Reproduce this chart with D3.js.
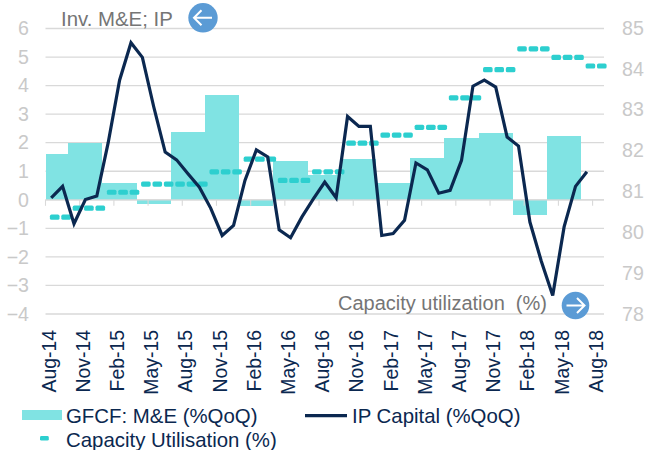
<!DOCTYPE html>
<html>
<head>
<meta charset="utf-8">
<script src="https://cdn.jsdelivr.net/npm/d3@7"></script>
<style>
html,body{margin:0;padding:0;background:#fff;}
svg{display:block;}
text{font-family:"Liberation Sans",Arial,sans-serif;}
</style>
</head>
<body>
<svg id="chart" width="654" height="450"></svg>
<script>
/*global d3*/
var monthNames=["Jan","Feb","Mar","Apr","May","Jun","Jul","Aug","Sep","Oct","Nov","Dec"];

//one entry per month, Aug-14 to Aug-18
var months=[];
for(var yr=14,mo=7;months.length<49;mo++){
  if(mo==12){mo=0;yr++;}
  months.push(monthNames[mo]+"-"+yr);
}

//bars are quarterly in the source so each value repeats over its months
var gfcf=[1.6,1.6,
  2,2,2, 0.6,0.6,0.6, -0.15,-0.15,-0.15, 2.38,2.38,2.38, 3.67,3.67,3.67,
  -0.2,-0.2,-0.2, 1.35,1.35,1.35, 0.87,0.87,0.87, 1.43,1.43,1.43,
  0.6,0.6,0.6, 1.46,1.46,1.46, 2.17,2.17,2.17, 2.33,2.33,2.33,
  -0.52,-0.52,-0.52, 2.25,2.25,2.25, null,null];

var ipCapital=[0.07,0.47,-0.84,0.01,0.13,2,4.19,5.5,4.99,3.25,1.67,1.4,
  0.91,0.44,-0.3,-1.25,-0.9,0.68,1.75,1.5,-1.05,-1.33,-0.6,0.03,
  0.62,0.07,2.92,2.57,2.57,-1.25,-1.18,-0.72,1.29,1.05,0.23,0.33,
  1.38,3.98,4.19,3.95,2.2,1.88,-0.78,-2.15,-3.35,-0.95,0.47,0.98,null];

var capacity=[80.37,80.37,
  80.59,80.59,80.59, 80.98,80.98,80.98, 81.18,81.18,81.18, 81.18,81.18,81.18, 81.48,81.48,81.48,
  81.79,81.79,81.79, 81.27,81.27,81.27, 81.48,81.48,81.48, 82.18,82.18,82.18,
  82.38,82.38,82.38, 82.57,82.57,82.57, 83.29,83.29,83.29, 83.98,83.98,83.98,
  84.49,84.49,84.49, 84.28,84.28,84.28, 84.07,84.07];

var leftTicks=[6,5,4,3,2,1,0,-1,-2,-3,-4];
var rightTicks=[85,84,83,82,81,80,79,78];
var tickMonths=months.filter(function(d,i){return i%3==0;});

var barColor="#80e3e3", lineColor="#0b2850", dashColor="#2dcfcf", blue="#5b9bd5";
var left=45.5, right=604, top_=28.5, bottom=314;

var svg=d3.select("#chart");

var x=d3.scaleBand().domain(months).range([left,right]);
var y=d3.scaleLinear().domain([-4,6]).range([bottom,top_]);
var y2=d3.scaleLinear().domain([78,85]).range([bottom,top_-0.5]);

//gridlines
svg.append("g").selectAll("line")
  .data(leftTicks)
  .enter().append("line")
  .attr("x1",left).attr("x2",right)
  .attr("y1",function(d){return y(d);})
  .attr("y2",function(d){return y(d);})
  .attr("stroke","#d9d9d9")
  .attr("stroke-width",1.3);

//bars
svg.append("g").selectAll("rect")
  .data(months.map(function(m,i){return {m:m,v:gfcf[i]};}).filter(function(d){return d.v!=null;}))
  .enter().append("rect")
  .attr("x",function(d){return x(d.m);})
  .attr("width",x.bandwidth())
  .attr("y",function(d){return y(Math.max(d.v,0));})
  .attr("height",function(d){return Math.abs(y(d.v)-y(0));})
  .attr("fill",barColor)
  .attr("shape-rendering","crispEdges");

//zero line and the tick marks, these sit on the left edge of the month
svg.append("line")
  .attr("x1",left).attr("x2",right)
  .attr("y1",y(0)).attr("y2",y(0))
  .attr("stroke","#d9d9d9").attr("stroke-width",1.3);
svg.append("g").selectAll("line")
  .data(tickMonths)
  .enter().append("line")
  .attr("x1",function(d){return x(d);})
  .attr("x2",function(d){return x(d);})
  .attr("y1",y(0)).attr("y2",y(0)+6)
  .attr("stroke","#d9d9d9").attr("stroke-width",1.1);

//capacity dashes, one per month
svg.append("g").selectAll("rect")
  .data(months.map(function(m,i){return {m:m,v:capacity[i]};}))
  .enter().append("rect")
  .attr("x",function(d){return x(d.m)+x.bandwidth()/2-1.3;})
  .attr("y",function(d){return y2(d.v)-2.6;})
  .attr("width",9.6)
  .attr("height",5.2)
  .attr("rx",1.6)
  .attr("fill",dashColor);

//IP line
var line=d3.line()
  .defined(function(d){return d.v!=null;})
  .x(function(d){return x(d.m)+x.bandwidth()/2;})
  .y(function(d){return y(d.v);});

svg.append("path")
  .datum(months.map(function(m,i){return {m:m,v:ipCapital[i]};}))
  .attr("d",line)
  .attr("fill","none")
  .attr("stroke",lineColor)
  .attr("stroke-width",3.2)
  .attr("stroke-linejoin","miter");

//axes
var axisL=svg.append("g")
  .attr("transform","translate(29,0)")
  .call(d3.axisLeft(y).tickValues(leftTicks).tickSize(0).tickPadding(0).tickFormat(d3.format("d")));
var axisR=svg.append("g")
  .attr("transform","translate(622,0)")
  .call(d3.axisRight(y2).tickValues(rightTicks).tickSize(0).tickPadding(0).tickFormat(d3.format("d")));
[axisL,axisR].forEach(function(a){
  a.select(".domain").remove();
  a.selectAll("text")
    .style("font-family",'"Liberation Sans",Arial,sans-serif')
    .style("font-size","19.6px")
    .attr("fill","#c9c9c9");
});

var axisB=svg.append("g")
  .attr("transform","translate(0,330)")
  .call(d3.axisBottom(x).tickValues(tickMonths).tickSize(0).tickPadding(0));
axisB.select(".domain").remove();
axisB.selectAll("text")
  .style("font-family",'"Liberation Sans",Arial,sans-serif')
  .style("font-size","19.4px")
  .attr("fill",lineColor)
  .attr("text-anchor","end")
  .attr("dy",null)
  .attr("y",0)
  .attr("transform","rotate(-90) translate(0,4.5)");

//the two annotations with arrows
function note(label,size,tx,ty,cx,cy,r,dir){
  svg.append("text").attr("x",tx).attr("y",ty)
    .attr("font-size",size).attr("fill","#757575")
    .attr("xml:space","preserve")
    .style("white-space","pre")
    .text(label);
  svg.append("circle").attr("cx",cx).attr("cy",cy).attr("r",r).attr("fill",blue);
  var a=svg.append("g").attr("transform","translate("+cx+","+cy+") scale("+dir+",1)")
    .attr("fill","none").attr("stroke","#fff").attr("stroke-width",2);
  a.append("path").attr("d","M-9,0H9M1.5,-7.5L9,0L1.5,7.5");
}
note("Inv. M&E; IP",20.4,61,26,203,17.8,14.7,-1);
note("Capacity utilization  (%)",20,338,310,575.5,305.5,13.8,1);

//legend
var legendFont=20.4;
svg.append("rect").attr("x",22).attr("y",410).attr("width",40).attr("height",10).attr("fill",barColor);
svg.append("text").attr("x",66).attr("y",422.5).attr("font-size",legendFont).attr("fill",lineColor).text("GFCF: M&E (%QoQ)");
svg.append("line").attr("x1",305).attr("x2",347).attr("y1",415.7).attr("y2",415.7).attr("stroke",lineColor).attr("stroke-width",3.2);
svg.append("text").attr("x",352).attr("y",422.5).attr("font-size",legendFont).attr("fill",lineColor).text("IP Capital (%QoQ)");
svg.append("rect").attr("x",40).attr("y",436).attr("width",8.8).attr("height",4.6).attr("rx",1.4).attr("fill",dashColor);
svg.append("text").attr("x",66).attr("y",446.5).attr("font-size",legendFont).attr("fill",lineColor).text("Capacity Utilisation (%)");
</script>
</body>
</html>
